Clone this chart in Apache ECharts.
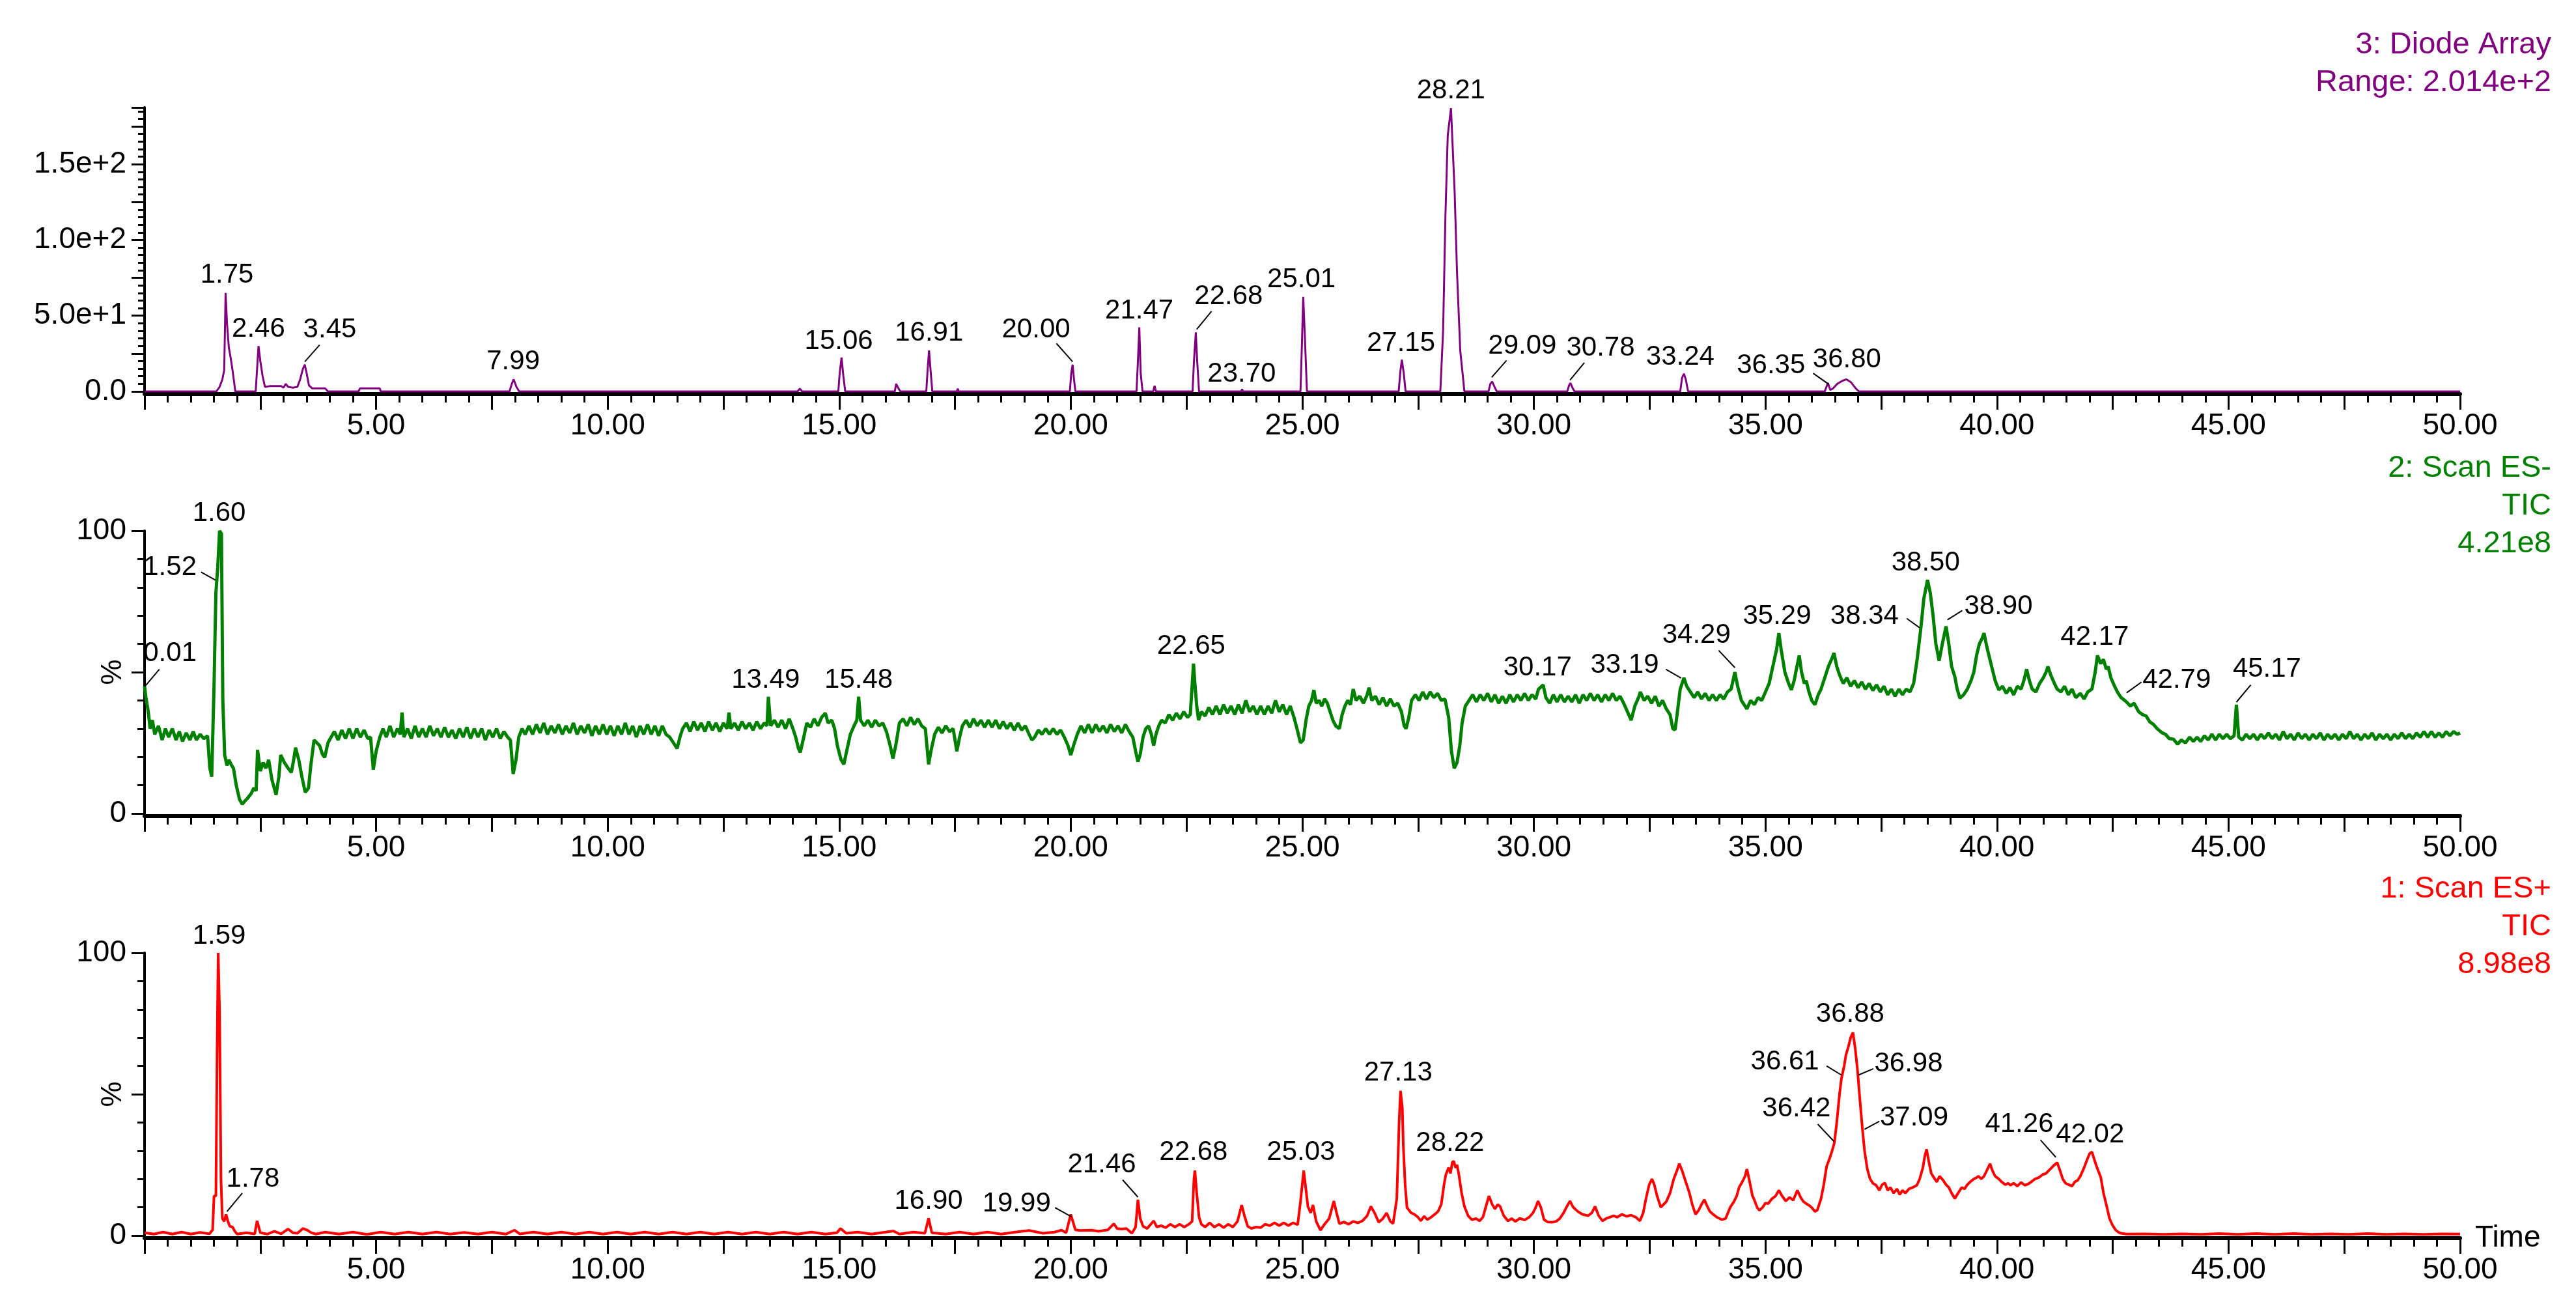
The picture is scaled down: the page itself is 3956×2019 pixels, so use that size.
<!DOCTYPE html>
<html><head><meta charset="utf-8">
<script src="https://cdn.jsdelivr.net/npm/echarts@6/dist/echarts.min.js"></script>
<style>html,body{margin:0;padding:0;background:#fff}#c{width:3956px;height:2019px}</style>
</head><body><div id="c"></div>
<script>
// ---------------- data ----------------
const timeRange = [0, 50];
const diodeMax = 187.5;
const pctMax = 100;

// 3: Diode Array  [time (min), absorbance]
const diodeTrace = [[0,0],[1.55,0],[1.62,3],[1.68,8],[1.72,14],[1.75,65],[1.78,45],[1.82,29],[1.86,22],[1.9,14],[1.96,0],[2.4,0],[2.43,15],[2.46,30],[2.5,20],[2.55,10],[2.6,3],[2.7,3.5],[2.85,3.5],[2.95,3.5],[3.0,2.5],[3.05,5],[3.1,3],[3.2,2.5],[3.3,3],[3.36,8],[3.42,15],[3.46,17.7],[3.5,12],[3.55,4],[3.62,2],[3.9,2],[3.96,0],[4.62,0],[4.65,2],[5.08,2],[5.1,0],[7.88,0],[7.93,5],[7.97,8],[8.03,3],[8.09,0],[14.1,0],[14.15,1.9],[14.2,0],[14.98,0],[15.01,12],[15.05,22.4],[15.09,10],[15.13,0],[16.2,0],[16.23,5],[16.28,2],[16.32,0],[16.88,0],[16.91,15],[16.94,27],[16.97,15],[17.01,0],[17.54,0],[17.56,1.8],[17.58,0],[19.98,0],[20.01,12],[20.04,17.7],[20.07,8],[20.1,0],[21.42,0],[21.45,20],[21.48,42.3],[21.51,12],[21.55,0],[21.78,0],[21.81,3.7],[21.84,0],[22.63,0],[22.66,20],[22.7,39],[22.73,20],[22.77,0],[23.68,0],[23.7,1.5],[23.72,0],[24.96,0],[24.99,30],[25.02,62.4],[25.05,40],[25.1,0],[27.08,0],[27.12,14],[27.15,21],[27.19,12],[27.23,0],[27.98,0],[28.04,40],[28.09,116],[28.14,169],[28.21,187],[28.29,131],[28.34,79],[28.41,27],[28.5,0],[29.02,0],[29.06,5],[29.1,6.5],[29.15,3],[29.2,0],[30.72,0],[30.76,4],[30.79,5.6],[30.84,2],[30.88,0],[33.16,0],[33.2,9],[33.24,11.7],[33.28,8],[33.33,0],[36.28,0],[36.35,5.6],[36.4,1],[36.46,2],[36.55,5],[36.66,7],[36.75,8],[36.85,6],[36.95,2],[37.02,0],[50,0]];

// 2: Scan ES- TIC  [time, %]
const esNegTrace = [[0,45],[0.03,41],[0.08,36],[0.12,30],[0.17,33],[0.22,28],[0.3,31],[0.38,26],[0.45,30],[0.52,27],[0.6,30],[0.68,26],[0.75,29],[0.82,25.5],[0.9,28.5],[0.98,26],[1.05,29],[1.12,26],[1.2,28],[1.28,26.5],[1.36,27.5],[1.41,16],[1.45,13],[1.5,45],[1.54,78],[1.58,87],[1.62,100],[1.66,99],[1.69,40],[1.73,20.7],[1.78,17],[1.82,19],[1.88,17],[1.92,16],[1.98,10],[2.05,5],[2.11,3.3],[2.17,4.5],[2.23,5.5],[2.3,7],[2.36,9],[2.41,8],[2.44,22.5],[2.5,15],[2.56,18],[2.62,16],[2.68,19],[2.75,12],[2.84,6.6],[2.9,13],[2.94,20.7],[3.02,18],[3.1,16],[3.17,14.5],[3.22,19],[3.26,23.3],[3.33,19],[3.4,12.8],[3.47,7.5],[3.54,9],[3.59,17],[3.66,26],[3.72,25],[3.78,24],[3.84,21],[3.89,19.8],[3.96,25],[4.02,26.8],[4.1,29],[4.18,26],[4.26,29.5],[4.34,26.5],[4.42,30],[4.5,26.5],[4.58,30],[4.66,27],[4.74,29.5],[4.82,26.5],[4.88,27],[4.94,15.5],[5.0,22],[5.08,27],[5.15,30],[5.22,27],[5.3,31],[5.38,27],[5.46,30],[5.52,28],[5.56,35.7],[5.6,27],[5.68,30],[5.76,26.5],[5.84,31],[5.92,27],[6.0,30],[6.08,27],[6.16,31],[6.24,27.5],[6.32,30],[6.4,27],[6.48,30.5],[6.56,27],[6.64,29.5],[6.72,26.5],[6.8,30],[6.88,27],[6.96,30.5],[7.04,26.5],[7.12,30],[7.2,27],[7.28,30],[7.36,26],[7.44,29.5],[7.52,27],[7.6,30],[7.68,26.5],[7.76,29],[7.84,27],[7.9,26],[7.96,14],[8.02,19],[8.08,27],[8.15,30],[8.22,28],[8.3,31],[8.38,28],[8.46,31.5],[8.54,28.5],[8.62,32],[8.7,28],[8.78,31],[8.86,28.5],[8.94,31.5],[9.02,28],[9.1,31],[9.18,28.5],[9.26,32],[9.34,28],[9.42,31],[9.5,28.5],[9.58,31.5],[9.66,27.5],[9.74,31],[9.82,28],[9.9,31.5],[9.98,28],[10.06,31],[10.14,27.5],[10.22,31],[10.3,28],[10.38,32],[10.46,28],[10.54,31],[10.62,27],[10.7,31],[10.78,28],[10.86,31.5],[10.94,28],[11.02,31],[11.1,27.5],[11.18,31],[11.26,28],[11.34,27],[11.42,25],[11.5,23],[11.56,27],[11.62,30],[11.7,32],[11.78,29],[11.86,32.5],[11.94,29.5],[12.02,32],[12.1,29],[12.18,32.5],[12.26,29.5],[12.34,32],[12.42,29],[12.5,32],[12.58,30],[12.62,35.7],[12.66,30],[12.74,32],[12.82,29.5],[12.9,32.5],[12.98,30],[13.06,32],[13.14,29.5],[13.22,32.5],[13.3,30],[13.38,32],[13.44,31],[13.47,41.3],[13.52,31],[13.6,33],[13.68,30.5],[13.76,33],[13.84,30],[13.92,33.5],[14.0,30],[14.06,27],[14.12,23],[14.16,21.6],[14.22,26],[14.3,32],[14.38,30.5],[14.46,33.5],[14.54,31],[14.62,34],[14.7,35.5],[14.76,32],[14.84,33],[14.9,30],[14.96,24],[15.04,19],[15.1,17.4],[15.16,22],[15.24,28],[15.32,31],[15.38,33],[15.42,41.3],[15.46,33],[15.54,31],[15.62,33],[15.7,30.5],[15.78,33],[15.86,31],[15.94,32],[16.02,29],[16.1,24],[16.16,19.5],[16.22,24],[16.3,32],[16.38,33.5],[16.46,31],[16.54,34],[16.62,31.5],[16.7,33.5],[16.78,31],[16.86,30],[16.93,17.4],[16.98,22],[17.06,28],[17.14,30.5],[17.22,28.5],[17.3,31],[17.38,29],[17.46,30],[17.54,22],[17.6,27],[17.66,31],[17.74,33],[17.82,30.5],[17.9,33.5],[17.98,31],[18.06,33],[18.14,30.5],[18.22,33],[18.3,30.5],[18.38,33],[18.46,30],[18.54,32.5],[18.62,30],[18.7,32],[18.78,29.5],[18.86,32],[18.94,29.5],[19.02,31],[19.1,28],[19.16,26],[19.22,27],[19.3,29.5],[19.38,28],[19.46,30],[19.54,28],[19.62,30],[19.7,28],[19.78,29.5],[19.86,27],[19.94,24],[20.0,20.7],[20.06,24],[20.14,28],[20.22,31],[20.3,28.5],[20.38,31.5],[20.46,28.5],[20.54,31.5],[20.62,29],[20.7,31],[20.78,28.5],[20.86,31.5],[20.94,29],[21.02,31],[21.1,28.5],[21.18,31.5],[21.26,29],[21.34,27],[21.4,22],[21.45,18.3],[21.5,21],[21.56,27],[21.62,30],[21.68,31],[21.74,28],[21.79,24],[21.84,28],[21.9,31],[21.96,33],[22.04,32],[22.12,35],[22.2,33],[22.28,35.5],[22.36,33.5],[22.44,36],[22.52,34],[22.58,35],[22.62,45],[22.65,53],[22.68,46],[22.72,38],[22.76,33],[22.82,36],[22.9,34.5],[22.98,37.5],[23.06,35],[23.14,38],[23.22,35],[23.3,38.5],[23.38,35.5],[23.46,38],[23.54,35],[23.62,38.5],[23.7,35.5],[23.78,40],[23.86,36],[23.94,38],[24.02,35],[24.1,38],[24.18,35],[24.26,38],[24.34,35.5],[24.42,40],[24.5,36],[24.58,38.5],[24.66,35],[24.74,38],[24.82,34],[24.9,29],[24.96,25],[25.02,26],[25.08,33],[25.14,38],[25.2,40],[25.25,43.7],[25.3,39],[25.36,40],[25.42,38],[25.48,40.5],[25.54,39],[25.6,36],[25.66,33],[25.72,31],[25.8,30],[25.86,35],[25.92,38],[25.98,40],[26.04,38.5],[26.1,44],[26.16,40],[26.24,41.5],[26.32,39],[26.4,42],[26.44,44.5],[26.5,40],[26.58,41.5],[26.66,38.5],[26.74,41],[26.82,38],[26.9,40.5],[26.98,38],[27.06,39],[27.14,36],[27.2,31],[27.24,30],[27.3,34],[27.36,40],[27.44,42],[27.52,40],[27.6,43],[27.68,40.5],[27.76,43],[27.84,41],[27.92,42.5],[28.0,40],[28.08,40.5],[28.16,34],[28.22,22],[28.28,16],[28.34,18],[28.4,24],[28.45,32],[28.52,38],[28.6,40],[28.68,42],[28.76,39.5],[28.84,42],[28.92,40],[29.0,42.5],[29.08,39.5],[29.16,42],[29.24,39],[29.32,41.5],[29.4,39],[29.48,42],[29.56,39.5],[29.64,42],[29.72,40],[29.8,42.5],[29.88,40],[29.96,42],[30.04,40.5],[30.1,44],[30.2,45.5],[30.26,41],[30.34,39],[30.42,42],[30.5,39.5],[30.58,42],[30.66,39.5],[30.74,41.5],[30.82,39.5],[30.9,42],[30.98,39],[31.06,42],[31.14,40],[31.22,42.5],[31.3,40],[31.38,42],[31.46,39.5],[31.54,42],[31.62,40],[31.7,42.5],[31.78,40],[31.86,41.5],[31.94,39],[32.02,36],[32.1,33],[32.18,38],[32.26,41],[32.3,43],[32.38,40],[32.46,41.5],[32.54,39],[32.62,41.5],[32.7,38],[32.78,40],[32.86,37],[32.94,35],[33.0,30],[33.05,29.6],[33.1,36],[33.16,44],[33.24,48],[33.3,45],[33.38,43],[33.46,41],[33.54,43],[33.62,40.5],[33.7,42.5],[33.78,40],[33.86,42],[33.94,40],[34.02,42],[34.1,40.5],[34.18,43],[34.26,44],[34.34,50],[34.4,45],[34.48,40],[34.56,38],[34.6,37],[34.68,40],[34.76,38.5],[34.84,41],[34.92,40],[35.0,43],[35.08,46],[35.16,52],[35.24,58],[35.29,63.8],[35.34,58],[35.42,50],[35.5,46],[35.56,43.7],[35.62,47],[35.68,52],[35.73,55.9],[35.78,50],[35.84,46],[35.88,47],[35.94,43],[36.0,40],[36.07,38.5],[36.14,42],[36.2,44],[36.28,48],[36.36,52],[36.44,55],[36.48,56.8],[36.54,52],[36.6,49],[36.68,46],[36.76,48],[36.84,45],[36.92,47],[37.0,44.5],[37.08,46.5],[37.16,44],[37.24,46],[37.32,43.5],[37.4,45.5],[37.48,43],[37.56,45],[37.64,42],[37.72,44],[37.8,41.5],[37.88,44],[37.96,42],[38.04,44],[38.12,43],[38.2,46],[38.28,55],[38.36,66.2],[38.42,76],[38.5,82.6],[38.56,78],[38.62,70],[38.68,60],[38.75,54],[38.82,60],[38.9,66.2],[38.96,60],[39.02,52],[39.09,48.4],[39.14,44],[39.2,40.8],[39.28,42],[39.36,44],[39.44,47],[39.5,50],[39.56,56],[39.62,60],[39.68,62],[39.72,63.8],[39.78,59],[39.84,55],[39.9,51],[39.96,47],[40.04,43.7],[40.12,45],[40.2,42.5],[40.28,44.5],[40.36,42],[40.44,45],[40.52,44],[40.58,47],[40.64,51],[40.7,47],[40.76,44],[40.84,43],[40.92,46],[41.0,48],[41.06,50],[41.1,52],[41.16,49],[41.24,46],[41.3,44],[41.38,43],[41.46,45],[41.54,42],[41.62,44],[41.7,41],[41.8,42.5],[41.88,40.5],[41.96,43],[42.05,44],[42.12,50],[42.17,55.9],[42.24,53],[42.3,54.5],[42.36,51],[42.4,52],[42.46,48],[42.54,45],[42.6,43],[42.68,41],[42.76,40],[42.8,39.4],[42.88,38],[42.96,39],[43.06,36],[43.14,35],[43.22,34.5],[43.3,32.4],[43.38,31.5],[43.46,30],[43.56,28.6],[43.64,28],[43.72,26.5],[43.81,26.3],[43.9,24.5],[43.98,26],[44.07,25],[44.16,27],[44.24,25.5],[44.32,27],[44.4,25.5],[44.48,27.5],[44.56,26],[44.64,28],[44.72,26],[44.8,28],[44.88,26.5],[44.96,28],[45.04,26.5],[45.12,27.5],[45.17,38.5],[45.22,27],[45.3,26],[45.38,28],[45.46,26.5],[45.54,28],[45.62,26],[45.7,28],[45.78,26.5],[45.86,28.5],[45.94,26.5],[46.02,28],[46.1,26],[46.18,29],[46.26,26.5],[46.34,28],[46.42,26],[46.5,28.5],[46.58,26.5],[46.66,28],[46.74,26],[46.82,28],[46.9,26.5],[46.98,28.5],[47.06,26],[47.14,28],[47.22,26.5],[47.3,28],[47.38,26],[47.46,28],[47.54,26.5],[47.62,29],[47.7,26.5],[47.78,28],[47.86,26],[47.94,28],[48.02,26.5],[48.1,28.5],[48.18,26],[48.26,28],[48.34,26.5],[48.42,28],[48.5,26],[48.58,28],[48.66,26.5],[48.74,28.5],[48.82,26.5],[48.9,28],[48.98,26.5],[49.06,28.5],[49.14,27],[49.22,29],[49.3,27],[49.38,29],[49.46,27],[49.54,28.5],[49.62,27],[49.7,29],[49.78,27.5],[49.86,29],[49.94,28],[50,28.5]];

// 1: Scan ES+ TIC  [time, %]
const esPosTrace = [[0,1],[0.2,0.5],[0.4,1.2],[0.6,0.5],[0.8,1.2],[1.0,0.5],[1.2,1.1],[1.4,0.6],[1.47,2],[1.5,14],[1.54,14],[1.57,71],[1.59,100],[1.62,79],[1.65,20],[1.68,6],[1.72,5],[1.76,7.5],[1.8,5],[1.84,3.3],[1.9,3],[1.95,1.5],[2.0,0.5],[2.2,1],[2.38,0.6],[2.43,5.2],[2.5,1],[2.65,0.5],[2.8,1.5],[2.95,0.6],[3.1,2.3],[3.2,1],[3.3,0.8],[3.42,2.5],[3.5,2],[3.6,1],[3.7,0.5],[3.9,1.2],[4.2,0.5],[4.5,1.2],[4.8,0.4],[5.1,1.2],[5.4,0.5],[5.7,1.2],[6.0,0.5],[6.3,1.2],[6.6,0.5],[6.9,1.1],[7.2,0.5],[7.5,1.2],[7.8,0.5],[7.99,1.9],[8.1,0.6],[8.4,1.2],[8.7,0.5],[9.0,1.2],[9.3,0.5],[9.6,1.2],[9.9,0.5],[10.2,1.2],[10.5,0.5],[10.8,1.2],[11.1,0.5],[11.4,1.2],[11.7,0.5],[12.0,1.2],[12.3,0.5],[12.6,1.2],[12.9,0.5],[13.2,1.2],[13.5,0.5],[13.8,1.2],[14.1,0.5],[14.4,1.2],[14.7,0.5],[14.95,1],[15.03,2.5],[15.15,0.8],[15.4,1.2],[15.7,0.5],[16.0,1.2],[16.17,1.6],[16.3,0.5],[16.6,1.2],[16.85,0.8],[16.93,6.1],[17.0,1],[17.3,0.5],[17.6,1.2],[17.9,0.5],[18.2,1.2],[18.5,0.5],[18.8,1.2],[19.1,1.8],[19.4,0.8],[19.65,1.2],[19.8,1.9],[19.9,1],[20.0,7.5],[20.1,2],[20.2,1.8],[20.45,1.9],[20.6,1.5],[20.8,2],[20.93,4.2],[21.0,2.5],[21.1,2.3],[21.2,2.5],[21.32,0.8],[21.4,3],[21.45,12.7],[21.5,6],[21.56,3.3],[21.65,2.5],[21.79,5.2],[21.86,3],[21.95,3.5],[22.05,2.8],[22.15,4],[22.25,3],[22.35,4],[22.45,3],[22.55,4],[22.62,5],[22.66,20],[22.68,23],[22.72,15],[22.77,6.5],[22.82,4],[22.9,3],[23.0,4.5],[23.1,3],[23.2,4],[23.3,2.8],[23.4,4],[23.5,3],[23.6,5],[23.69,10.8],[23.75,7],[23.82,3.3],[23.9,2.5],[24.0,3],[24.1,2.8],[24.2,4],[24.3,3.5],[24.4,4.5],[24.5,3.5],[24.6,4.5],[24.7,3.5],[24.8,4.5],[24.9,3.8],[24.96,12],[25.03,23],[25.08,16],[25.12,10.3],[25.18,8],[25.23,10.8],[25.3,5],[25.39,1.9],[25.48,4],[25.58,6],[25.68,12.2],[25.74,8],[25.8,4.2],[25.9,4.8],[26.0,4],[26.1,5],[26.2,4.5],[26.3,5.2],[26.4,7],[26.48,10.3],[26.56,8],[26.65,4.7],[26.74,6],[26.82,8],[26.9,5],[26.96,4.2],[27.04,13],[27.09,40],[27.12,51.2],[27.16,45],[27.18,32],[27.22,18],[27.26,9.9],[27.35,8],[27.42,7.5],[27.49,6.6],[27.56,5.2],[27.63,6.8],[27.7,5.6],[27.78,6.5],[27.86,7.5],[27.93,8.5],[28.0,11],[28.06,18],[28.1,21.6],[28.16,24],[28.2,22],[28.24,26],[28.27,26.3],[28.31,24],[28.34,25],[28.38,21.6],[28.44,15],[28.5,10.3],[28.58,7],[28.66,5.6],[28.75,6],[28.83,5.2],[28.9,6.5],[28.96,10],[29.03,14],[29.1,11],[29.16,9.4],[29.22,11],[29.27,10.3],[29.35,7],[29.44,5.2],[29.52,6],[29.6,5],[29.7,6.1],[29.8,5.5],[29.9,6.5],[29.98,8],[30.04,10],[30.09,12.2],[30.15,10],[30.22,5.6],[30.3,4.8],[30.39,4.7],[30.48,5],[30.56,6],[30.64,8],[30.72,10.5],[30.78,12.2],[30.85,10],[30.95,8.5],[31.05,7.5],[31.17,7],[31.25,8],[31.32,10.3],[31.4,7],[31.48,5.2],[31.56,6],[31.64,6.5],[31.72,7],[31.8,6.5],[31.9,7.5],[32.0,6.8],[32.1,7.2],[32.2,6.5],[32.29,5.2],[32.36,8],[32.42,13],[32.49,18],[32.55,20],[32.6,18],[32.66,14],[32.74,10],[32.8,11],[32.86,12],[32.94,15],[33.02,20],[33.09,23],[33.14,25.4],[33.2,23],[33.28,19],[33.36,15],[33.42,11],[33.49,7.5],[33.56,9],[33.62,11],[33.68,12.7],[33.74,10.5],[33.8,8.5],[33.87,7.5],[33.95,6.5],[34.06,5.6],[34.14,6],[34.24,10],[34.32,12],[34.38,14],[34.43,17],[34.5,19],[34.56,21],[34.6,23.5],[34.66,19],[34.72,14],[34.75,13],[34.82,10],[34.87,8.9],[34.94,10],[35.0,11.5],[35.06,11.3],[35.14,13],[35.22,14],[35.29,16],[35.36,14],[35.44,12.2],[35.52,13.5],[35.6,12.5],[35.69,16],[35.76,13.5],[35.82,12],[35.88,11.3],[35.96,10.5],[36.02,9.5],[36.07,8.5],[36.12,9],[36.2,13],[36.26,18],[36.32,24.4],[36.38,27],[36.44,30],[36.49,32.9],[36.54,40],[36.6,50],[36.64,55.4],[36.7,60],[36.74,64],[36.79,66.7],[36.84,70],[36.89,71.8],[36.94,66],[36.99,58.2],[37.04,48],[37.09,38.5],[37.14,30],[37.2,23.5],[37.26,20],[37.32,18.5],[37.39,17.8],[37.46,16],[37.52,18],[37.58,18.6],[37.64,16],[37.7,17],[37.77,15],[37.84,16.5],[37.9,14.5],[37.96,16],[38.02,15],[38.1,16.5],[38.18,17],[38.27,17.8],[38.33,20],[38.4,24],[38.44,28],[38.48,30.5],[38.53,26],[38.58,22],[38.63,20.7],[38.7,19],[38.76,21],[38.84,19.5],[38.9,18],[38.96,17],[39.02,15],[39.09,13.1],[39.16,15],[39.24,17],[39.3,16.5],[39.35,17.8],[39.42,19],[39.5,20],[39.56,20.5],[39.6,21],[39.66,20],[39.72,21],[39.78,23],[39.85,25.4],[39.9,23],[39.96,21],[40.04,20],[40.1,19],[40.18,18],[40.24,18.5],[40.29,17.8],[40.36,18.5],[40.44,17.5],[40.52,18.8],[40.6,17.8],[40.67,18.2],[40.74,19],[40.82,20],[40.9,20.5],[40.99,21.6],[41.06,22],[41.12,23],[41.18,24],[41.24,25],[41.3,25.8],[41.36,23],[41.42,20],[41.48,18.5],[41.55,18],[41.62,17.5],[41.68,19],[41.74,19.5],[41.8,21],[41.88,24],[41.95,27],[42.0,29],[42.05,29.6],[42.1,27],[42.16,24],[42.24,20.7],[42.3,15],[42.37,10.3],[42.43,6],[42.49,3.8],[42.56,2],[42.62,1.2],[42.68,0.8],[42.8,0.5],[43.2,0.6],[43.6,0.4],[44.0,0.6],[44.4,0.4],[44.8,0.7],[45.2,0.4],[45.6,0.7],[46.0,0.4],[46.4,0.7],[46.8,0.4],[47.2,0.6],[47.6,0.4],[48.0,0.7],[48.4,0.4],[48.8,0.6],[49.2,0.4],[49.6,0.6],[50,0.5]];

// peak labels: [text, time, value at text baseline]
const diodeLabels = [["1.75",1.78,70.8],["2.46",2.46,35.4],["3.45",4.0,35],["7.99",7.96,14],["15.06",14.99,27],["16.91",16.94,32.6],["20.00",19.25,35],["21.47",21.48,47.5],["22.68",23.41,56.8],["23.70",23.69,5.6],["25.01",24.98,68],["27.15",27.13,26],["28.21",28.21,192.5],["29.09",29.75,24],["30.78",31.44,23],["33.24",33.16,17],["36.35",35.12,11.2],["36.80",36.76,15]];
const esNegLabels = [["0.01",0.55,53.5],["1.52",0.55,84],["1.60",1.61,103],["13.49",13.41,44],["15.48",15.42,44],["22.65",22.6,55.9],["30.17",30.08,48.4],["33.19",31.96,49.3],["34.29",33.51,60],["35.29",35.25,66.7],["38.34",37.14,66.7],["38.50",38.46,85.4],["38.90",40.03,70],["42.17",42.11,59.2],["42.79",43.88,44.1],["45.17",45.83,47.9]];
const esPosLabels = [["1.59",1.61,102.8],["1.78",2.34,16.9],["16.90",16.93,8.9],["19.99",18.83,8],["21.46",20.67,22],["22.68",22.65,26.3],["25.03",24.97,26.3],["27.13",27.07,54.5],["28.22",28.19,29.6],["36.88",36.83,75.1],["36.61",35.42,58.2],["36.98",38.09,57.7],["36.42",35.67,41.8],["37.09",38.21,38.5],["41.26",40.48,36.2],["42.02",42.01,32.4]];

// leader lines: [t1, v1, t2, v2]
const diodeLeaders = [[3.78,30.7,3.46,19.6],[19.69,31.7,20.04,19.6],[23.04,53,22.72,41],[29.41,20.5,29.09,9.3],[31.09,19,30.78,7.5],[36.03,12,36.37,4.7]];
const esNegLeaders = [[0.32,51,0.01,45],[1.22,85.4,1.53,82.6],[32.85,51,33.18,47.9],[33.99,57.7,34.34,51.6],[38.05,69,38.33,65.7],[39.25,71.8,38.93,68.5],[43.12,46.5,42.8,42.7],[45.48,45.5,45.17,39.4]];
const esPosLeaders = [[2.11,15,1.78,8.5],[19.66,9.9,20.02,6.6],[21.12,19.7,21.45,13.6],[36.32,60,36.64,56.8],[37.33,59,37.01,56.8],[36.13,39.4,36.48,33.3],[37.46,40.4,37.14,37.6],[40.94,33.8,41.27,27.7]];

const titles1 = ["3: Diode Array", "Range: 2.014e+2"];
const titles2 = ["2: Scan ES-", "TIC", "4.21e8"];
const titles3 = ["1: Scan ES+", "TIC", "8.98e8"];

// ---------------- chart ----------------
const FONT = "'Liberation Sans',Arial,sans-serif";
const PURPLE = '#800080', GREEN = '#008000', RED = '#ff0000';
const grids = [
  {left: 222, right: 178, top: 165, height: 436},
  {left: 222, right: 178, top: 815, height: 434},
  {left: 222, right: 178, top: 1463, height: 434}
];
const yMaxes = [diodeMax, pctMax, pctMax];

function xAxis(i) {
  const ax = {
    type: 'value', gridIndex: i, min: timeRange[0], max: timeRange[1], interval: 2.5, offset: 4,
    axisLine: {show: true, onZero: false, lineStyle: {color: '#000', width: 6}},
    axisTick: {show: true, length: 24, lineStyle: {color: '#000', width: 3}},
    minorTick: {show: true, splitNumber: 5, length: 13, lineStyle: {color: '#000', width: 3}},
    splitLine: {show: false},
    axisLabel: {margin: 26, color: '#000', fontSize: 46, fontFamily: FONT,
      formatter: v => (v > 0 && Math.abs(v % 5) < 1e-9) ? v.toFixed(2) : ''}
  };
  if (i === 2) {
    ax.name = 'Time'; ax.nameLocation = 'end'; ax.nameGap = 23; ax.nameMoveOverlap = false;
    ax.nameTextStyle = {color: '#000', fontSize: 46, fontFamily: FONT, verticalAlign: 'middle', align: 'left'};
  }
  return ax;
}
function yAxis(i) {
  const base = {
    type: 'value', gridIndex: i, min: 0, max: yMaxes[i],
    axisLine: {show: true, lineStyle: {color: '#000', width: 4}},
    splitLine: {show: false},
    axisTick: {show: true, length: 20, lineStyle: {color: '#000', width: 3}},
    axisLabel: {margin: 28, color: '#000', fontSize: 46, fontFamily: FONT}
  };
  if (i === 0) {
    base.interval = 25;
    base.minorTick = {show: true, splitNumber: 5, length: 10, lineStyle: {color: '#000', width: 3}};
    base.axisLabel.formatter = v => (v % 50 !== 0) ? '' : (v === 0 ? '0.0' : v.toExponential(1));
  } else {
    base.interval = 50;
    base.minorTick = {show: true, splitNumber: 5, length: 11, lineStyle: {color: '#000', width: 3}};
    base.axisLabel.formatter = v => (v === 0 || v === 100) ? String(v) : '';
    base.name = '%'; base.nameLocation = 'middle'; base.nameRotate = 90; base.nameGap = 26;
    base.nameMoveOverlap = false;
    base.nameTextStyle = {color: '#000', fontSize: 44, fontFamily: FONT};
  }
  return base;
}
function series(i, data, color, labels, leaders, width) {
  const max = yMaxes[i];
  const ppu = grids[i].height / max;
  return {
    type: 'line', xAxisIndex: i, yAxisIndex: i, data: data, showSymbol: false, symbol: 'none',
    lineStyle: {color: color, width: width}, itemStyle: {color: color}, animation: false, silent: true, z: 3,
    markPoint: {
      symbol: 'circle', symbolSize: 1, itemStyle: {color: 'rgba(0,0,0,0)'}, silent: true, animation: false,
      label: {show: true, position: 'top', color: '#000', fontSize: 42, fontFamily: FONT, formatter: '{b}'},
      data: labels.map(([txt, t, v]) => {
        const vv = Math.min(v, max);
        return {name: txt, coord: [t, vv], label: {distance: (v - vv) * ppu - 8}};
      })
    },
    markLine: {
      symbol: ['none', 'none'], silent: true, animation: false,
      label: {show: false},
      lineStyle: {color: '#000', width: 2, type: 'solid'},
      data: leaders.map(([a, b, c, d]) => [{coord: [a, b]}, {coord: [c, d]}])
    }
  };
}
function titleTexts(lines, firstTop, color) {
  return lines.map((s, k) => ({
    type: 'text', right: 38, top: firstTop + k * 58,
    style: {text: s, fill: color, font: '47px ' + FONT}
  }));
}

const chart = echarts.init(document.getElementById('c'), null, {renderer: 'canvas'});
chart.setOption({
  backgroundColor: '#fff',
  animation: false,
  grid: grids,
  xAxis: [xAxis(0), xAxis(1), xAxis(2)],
  yAxis: [yAxis(0), yAxis(1), yAxis(2)],
  series: [
    series(0, diodeTrace, PURPLE, diodeLabels, diodeLeaders, 3),
    series(1, esNegTrace, GREEN, esNegLabels, esNegLeaders, 5),
    series(2, esPosTrace, RED, esPosLabels, esPosLeaders, 4)
  ],
  graphic: [].concat(
    titleTexts(titles1, 46, PURPLE),
    titleTexts(titles2, 696, GREEN),
    titleTexts(titles3, 1342, RED)
  )
});
</script></body></html>
